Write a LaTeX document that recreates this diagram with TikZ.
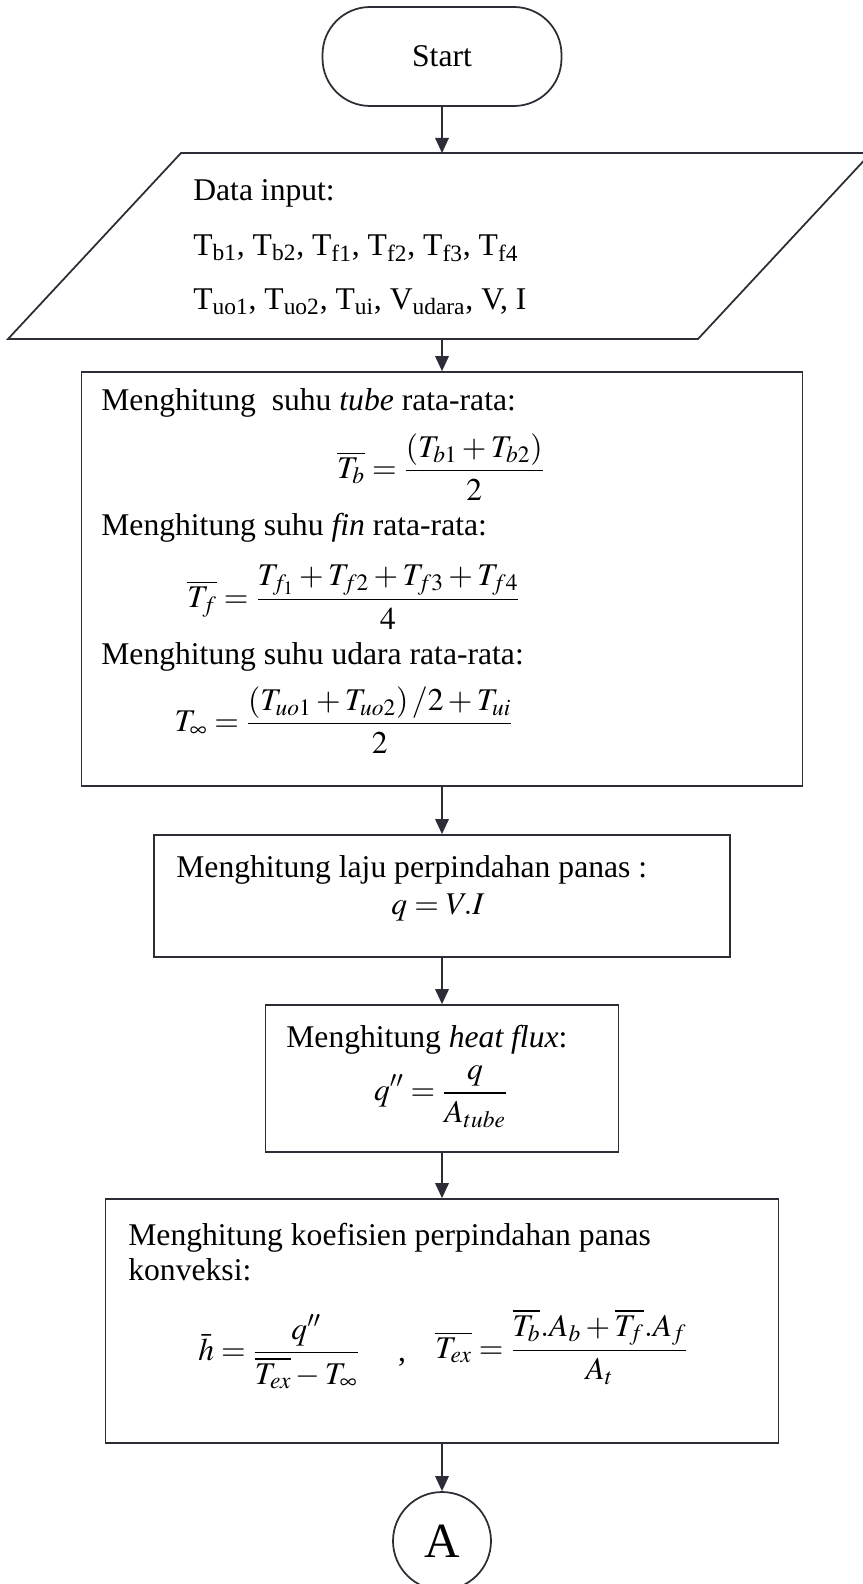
\documentclass[tikz,border=0pt]{standalone}
\usepackage{mathptmx}
\usepackage{amsmath}
\usepackage{fontspec}
\setmainfont{Liberation Serif}
\usetikzlibrary{arrows.meta, positioning}
\definecolor{mydark}{RGB}{45,45,55}
\tikzset{
  procbox/.style={rectangle, draw=mydark, line width=1pt, inner sep=0pt},
  termbox/.style={rectangle, draw=mydark, line width=1pt, inner sep=0pt,
    rounded corners=0.95cm, font=\fontsize{18}{20}\selectfont},
  conn/.style={circle, draw=mydark, line width=1pt, inner sep=0pt,
    minimum size=1.96cm, font=\fontsize{28}{28}\selectfont},
  txt/.style={anchor=west, inner sep=0pt, align=left,
    font=\fontsize{18}{20}\selectfont},
  eqn/.style={inner sep=0pt, font=\fontsize{18}{21}\selectfont},
  arrow/.style={-{Triangle[length=0.3cm, width=0.27cm]}, line width=1pt, color=mydark},
  outline/.style={draw=mydark, line width=1pt}
}

\begin{document}
\begin{tikzpicture}[x=0.02cm, y=-0.02cm]
  \useasboundingbox (0,0) rectangle (862,1584);
  % terminal
  \node[termbox, minimum width=4.78cm, minimum height=1.98cm] (start) at (442,56.5) {Start};
  % data input
  \draw[outline] (181,153) -- (871,153) -- (698,339) -- (8,339) -- cycle;
  \coordinate (datain) at (442,153);
  \coordinate (dataout) at (442,339);
  \node[txt] (datalbl) at (193,193) {Data input:};
  \node[txt] (datatf) at (193,248) {T\textsubscript{b1}, T\textsubscript{b2}, T\textsubscript{f1}, T\textsubscript{f2}, T\textsubscript{f3}, T\textsubscript{f4}};
  \node[txt] (datatu) at (193,302) {T\textsubscript{uo1}, T\textsubscript{uo2}, T\textsubscript{ui}, V\textsubscript{udara}, V, I};
  % mean temperatures
  \node[procbox, minimum width=14.42cm, minimum height=8.28cm] (tube) at (442,579) {};
  \node[txt] (tubelbl) at (101,403) {Menghitung\ \ suhu \textit{tube} rata-rata:};
  \node[eqn] (tubeeq) at (441,467) {$\displaystyle \overline{T_b}=\frac{\left(T_{b1}+T_{b2}\right)}{2}$};
  \node[txt] (finlbl) at (101,528) {Menghitung suhu \textit{fin} rata-rata:};
  \node[eqn] (fineq) at (354,597) {$\displaystyle \overline{T_f}=\frac{T_{f_1}+T_{f2}+T_{f3}+T_{f4}}{4}$};
  \node[txt] (airlbl) at (101,657) {Menghitung suhu udara rata-rata:};
  \node[eqn] (aireq) at (344,720) {$\displaystyle T_\infty=\frac{\left(T_{uo1}+T_{uo2}\right)/2+T_{ui}}{2}$};
  % heat rate
  \node[procbox, minimum width=11.52cm, minimum height=2.44cm] (heat) at (442,896) {};
  \node[txt] (heatlbl) at (176,870) {Menghitung laju perpindahan panas :};
  \node[eqn] (heateq) at (438,908) {$q=V.I$};
  % heat flux
  \node[procbox, minimum width=7.06cm, minimum height=2.94cm] (flux) at (442,1078.5) {};
  \node[txt] (fluxlbl) at (286,1040) {Menghitung \textit{heat flux}:};
  \node[eqn] (fluxeq) at (441,1097) {$\displaystyle q''=\frac{q}{A_{tube}}$};
  % convection coefficient
  \node[procbox, minimum width=13.46cm, minimum height=4.88cm] (conv) at (442,1321) {};
  \node[txt] (convlbl) at (128,1252) {Menghitung koefisien perpindahan panas\\konveksi:};
  \node[eqn] (conveq) at (279,1352) {$\displaystyle \bar{h}=\frac{q''}{\overline{T_{ex}}-T_\infty}$};
  \node[eqn] (convsep) at (402,1362) {,};
  \node[eqn] (exeq) at (562,1347) {$\displaystyle \overline{T_{ex}}=\frac{\overline{T_b}.A_b+\overline{T_f}.A_f}{A_t}$};
  % connector
  \node[conn] (conA) at (442,1541) {A};
  % flow
  \draw[arrow] (start) -- (datain);
  \draw[arrow] (dataout) -- (tube);
  \draw[arrow] (tube) -- (heat);
  \draw[arrow] (heat) -- (flux);
  \draw[arrow] (flux) -- (conv);
  \draw[arrow] (conv) -- (conA);
\end{tikzpicture}
\end{document}
